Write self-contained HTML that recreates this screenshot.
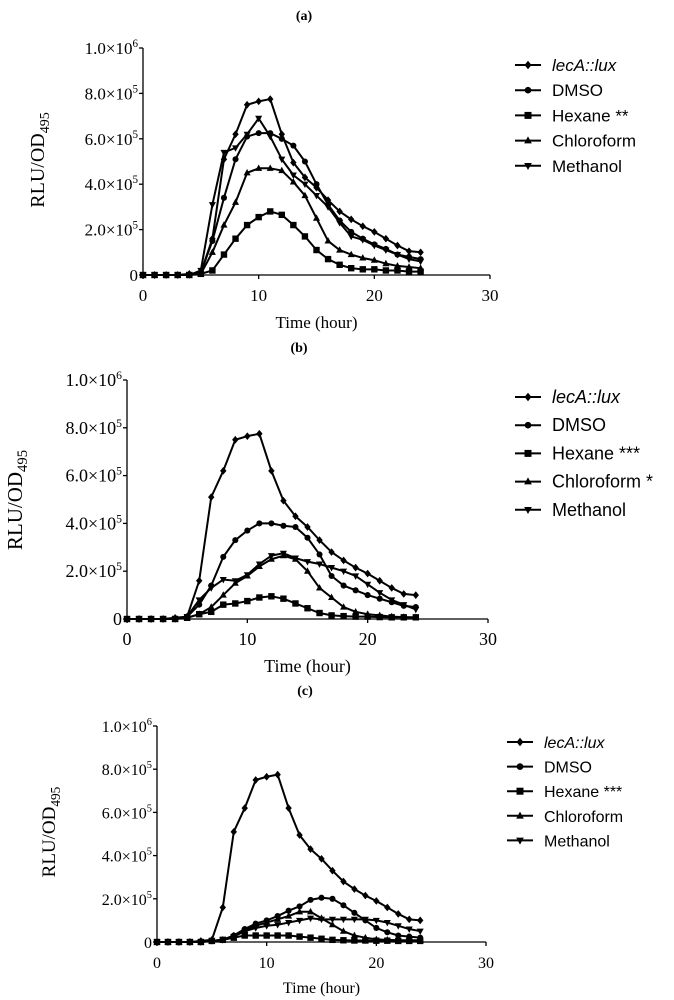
<!DOCTYPE html>
<html><head><meta charset="utf-8"><style>
html,body{margin:0;padding:0;background:#fff;}
svg{display:block;}
</style></head><body>
<svg id="fig" width="674" height="1000" xmlns="http://www.w3.org/2000/svg"></svg>
<script>
const hours = [0,1,2,3,4,5,6,7,8,9,10,11,12,13,14,15,16,17,18,19,20,21,22,23,24];
const xTicks = [0,10,20,30];
const yTickValues = [0,2e5,4e5,6e5,8e5,1e6];
const yTickMant = ["0","2.0","4.0","6.0","8.0","1.0"];
const yTickExp = ["","5","5","5","5","6"];
const seriesNames = ["lecA::lux","DMSO","Hexane","Chloroform","Methanol"];
// values in units of 1e5
const lecA = [0,0,0,0,0.05,0.1,1.6,5.1,6.2,7.5,7.65,7.75,6.2,4.95,4.3,3.85,3.3,2.8,2.45,2.15,1.9,1.6,1.3,1.05,1.0];
const aDMSO = [0,0,0,0,0,0.1,1.5,3.4,5.1,6.1,6.25,6.25,6.0,5.7,5.0,4.0,3.1,2.4,1.9,1.6,1.35,1.15,0.9,0.8,0.7];
const aHexane = [0,0,0,0,0,0.05,0.2,0.9,1.6,2.2,2.55,2.8,2.65,2.2,1.7,1.1,0.7,0.45,0.3,0.25,0.25,0.2,0.2,0.15,0.15];
const aChloro = [0,0,0,0,0,0.05,1.0,2.2,3.2,4.5,4.7,4.7,4.6,4.1,3.5,2.5,1.5,1.1,0.9,0.75,0.65,0.5,0.4,0.35,0.3];
const aMethanol = [0,0,0,0,0,0.2,3.1,5.4,5.6,6.2,6.9,6.1,5.1,4.4,4.0,3.5,3.0,2.3,1.7,1.55,1.3,1.1,0.9,0.7,0.6];
const bDMSO = [0,0,0,0,0,0.1,0.6,1.4,2.6,3.3,3.7,4.0,4.0,3.9,3.85,3.4,2.7,1.8,1.4,1.2,1.0,0.85,0.7,0.55,0.5];
const bHexane = [0,0,0,0,0,0.05,0.2,0.3,0.6,0.65,0.75,0.9,0.95,0.85,0.65,0.45,0.25,0.15,0.12,0.1,0.1,0.08,0.07,0.07,0.07];
const bChloro = [0,0,0,0,0,0.05,0.2,0.5,1.0,1.5,1.8,2.2,2.5,2.65,2.5,2.0,1.3,0.9,0.5,0.3,0.2,0.15,0.1,0.08,0.07];
const bMethanol = [0,0,0,0,0,0.1,0.8,1.3,1.65,1.6,1.85,2.3,2.65,2.75,2.55,2.4,2.3,2.15,2.0,1.8,1.45,1.1,0.8,0.6,0.4];
const cDMSO = [0,0,0,0,0,0.05,0.1,0.3,0.6,0.85,1.0,1.2,1.45,1.65,1.95,2.05,2.0,1.7,1.35,1.0,0.65,0.45,0.3,0.25,0.2];
const cHexane = [0,0,0,0,0,0.05,0.1,0.2,0.3,0.3,0.3,0.3,0.3,0.25,0.2,0.15,0.1,0.08,0.07,0.07,0.06,0.06,0.05,0.05,0.05];
const cChloro = [0,0,0,0,0,0.05,0.1,0.3,0.55,0.75,0.9,1.05,1.2,1.4,1.4,1.1,0.8,0.5,0.3,0.2,0.12,0.1,0.08,0.08,0.08];
const cMethanol = [0,0,0,0,0,0.05,0.1,0.25,0.5,0.65,0.75,0.8,0.9,1.0,1.1,1.05,1.05,1.05,1.05,1.05,1.0,0.9,0.75,0.6,0.5];
const legendA = ["lecA::lux","DMSO","Hexane **","Chloroform","Methanol"];
const legendB = ["lecA::lux","DMSO","Hexane ***","Chloroform *","Methanol"];
const legendC = ["lecA::lux","DMSO","Hexane ***","Chloroform","Methanol"];

const NS="http://www.w3.org/2000/svg";
const svg=document.getElementById('fig');
function mk(tag,attrs,parent){const e=document.createElementNS(NS,tag);for(const k in attrs)e.setAttribute(k,attrs[k]);(parent||svg).appendChild(e);return e;}
function marker(g,kind,x,y,s){
  if(kind===0) return mk('polygon',{points:`${x},${y-s*1.2} ${x+s},${y} ${x},${y+s*1.2} ${x-s},${y}`,fill:'#000'},g);
  if(kind===1) return mk('circle',{cx:x,cy:y,r:s*0.95,fill:'#000'},g);
  if(kind===2) return mk('rect',{x:x-s,y:y-s,width:2*s,height:2*s,fill:'#000'},g);
  if(kind===3) return mk('polygon',{points:`${x},${y-s*1.2} ${x+s*1.1},${y+s*0.8} ${x-s*1.1},${y+s*0.8}`,fill:'#000'},g);
  return mk('polygon',{points:`${x},${y+s*1.2} ${x+s*1.1},${y-s*0.8} ${x-s*1.1},${y-s*0.8}`,fill:'#000'},g);
}
function panel(p){
  const g=mk('g',{});
  
  
  const X=t=>p.x0+(p.x1-p.x0)*t/30;
  const Y=v=>p.y0-(p.y0-p.y1)*v/1e6;
  const title=mk('text',{x:p.tx,y:p.ty,'font-family':'Liberation Serif, serif','font-size':14,'font-weight':'bold','text-anchor':'middle'},g);
  title.textContent='('+p.id+')';
  
  
  const ya=mk('line',{x1:p.x0,y1:p.y0,x2:p.x0,y2:p.y1,stroke:'#000','stroke-width':1.3},g);
  
  
  const xa=mk('line',{x1:p.x0,y1:p.y0,x2:p.x1,y2:p.y0,stroke:'#000','stroke-width':1.3},g);
  
  
  yTickValues.forEach((v,i)=>{
    mk('line',{x1:p.x0-4,y1:Y(v),x2:p.x0,y2:Y(v),stroke:'#000','stroke-width':1.3},g);
    const t=mk('text',{x:p.x0-5,y:Y(v)+6,'font-family':'Liberation Serif, serif','font-size':p.fs,'text-anchor':'end',fill:'#000'},g);
    
    
    if(yTickExp[i]){
      const a=mk('tspan',{},t);a.textContent=yTickMant[i]+'\u00d710';
      const b=mk('tspan',{dy:-7,'font-size':p.fs*0.65},t);b.textContent=yTickExp[i];
    } else t.textContent=yTickMant[i];
  });
  xTicks.forEach(v=>{
    mk('line',{x1:X(v),y1:p.y0,x2:X(v),y2:p.y0+4,stroke:'#000','stroke-width':1.3},g);
    const t=mk('text',{x:X(v),y:p.y0+26,'font-family':'Liberation Serif, serif','font-size':p.fs,'text-anchor':'middle'},g);
    t.textContent=v;
    
    
  });
  const xl=mk('text',{x:(p.x0+p.x1)/2,y:p.xly,'font-family':'Liberation Serif, serif','font-size':p.fs,'text-anchor':'middle'},g);
  xl.textContent='Time (hour)';
  
  
  const yl=mk('text',{x:0,y:0,transform:`translate(${p.ylx},${p.yly}) rotate(-90)`,'font-family':'Liberation Serif, serif','font-size':p.fs+3,'text-anchor':'middle'},g);
  
  
  const y1=mk('tspan',{},yl);y1.textContent='RLU/OD';
  const y2=mk('tspan',{dy:5,'font-size':(p.fs+3)*0.7},yl);y2.textContent='495';
  p.series.forEach((vals,si)=>{
    const sg=mk('g',{},g);
    
    
    const pts=hours.map((h,i)=>X(h)+','+Y(vals[i]*1e5)).join(' ');
    mk('polyline',{points:pts,fill:'none',stroke:'#000','stroke-width':2,'stroke-linejoin':'round'},sg);
    hours.forEach((h,i)=>{const m=marker(sg,si,X(h),Y(vals[i]*1e5),3.2);
      
      });
  });
  p.legend.forEach((name,i)=>{
    const lg=mk('g',{},g);
    
    
    const ly=p.ly0+i*p.ldy;
    mk('line',{x1:p.lx,y1:ly,x2:p.lx+26,y2:ly,stroke:'#000','stroke-width':2},lg);
    marker(lg,i,p.lx+13,ly,3.5);
    const t=mk('text',{x:p.lx+37,y:ly+6,'font-family':'Liberation Sans, sans-serif','font-size':p.lfs},lg);
    if(i===0) t.setAttribute('font-style','italic');
    t.textContent=name;
  });
}
panel({id:'a',x0:143,x1:490,y0:275,y1:48,tx:304,ty:20,xly:328,ylx:44,yly:160,fs:17,lx:515,ly0:65,ldy:25.2,lfs:17,legend:legendA,series:[lecA,aDMSO,aHexane,aChloro,aMethanol]});
panel({id:'b',x0:127,x1:488,y0:619,y1:380,tx:299,ty:352,xly:672,ylx:22,yly:500,fs:18,lx:515,ly0:397,ldy:28.2,lfs:18,legend:legendB,series:[lecA,bDMSO,bHexane,bChloro,bMethanol]});
panel({id:'c',x0:157,x1:486,y0:942,y1:726,tx:305,ty:695,xly:993,ylx:55,yly:832,fs:16,lx:507,ly0:742,ldy:24.6,lfs:16,legend:legendC,series:[lecA,cDMSO,cHexane,cChloro,cMethanol]});
</script>
</body></html>
